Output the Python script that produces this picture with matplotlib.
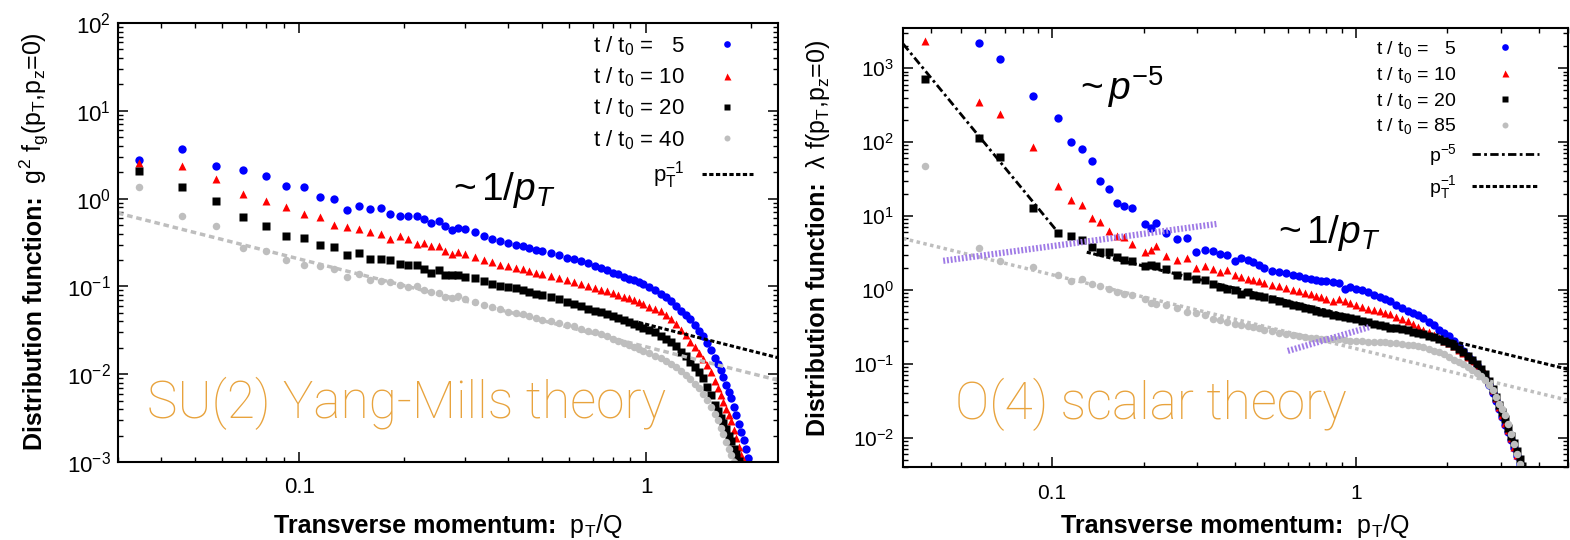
import numpy as np
import matplotlib.pyplot as plt
from matplotlib.ticker import LogLocator, NullFormatter, LogFormatterSciNotation

plt.rcParams['font.family'] = ['Liberation Sans', 'DejaVu Sans']
plt.rcParams['mathtext.fontset'] = 'custom'
plt.rcParams['mathtext.rm'] = 'Liberation Sans'
plt.rcParams['mathtext.it'] = 'Liberation Sans:italic'
plt.rcParams['mathtext.bf'] = 'Liberation Sans:bold'

nan = np.nan

# ---------------- SU(2) Yang-Mills (left panel) ----------------
p_su2 = [0.0344, 0.0458, 0.0573, 0.0687, 0.0800, 0.0916, 0.103, 0.1145, 0.126, 0.137,
         0.149, 0.160, 0.172, 0.183, 0.195, 0.206, 0.218, 0.229, 0.240, 0.252, 0.263, 0.275, 0.287,
         0.30, 0.32, 0.34, 0.36, 0.38, 0.40, 0.42, 0.44, 0.46, 0.48, 0.50, 0.53, 0.56, 0.59,
         0.62, 0.65, 0.68, 0.71, 0.74, 0.77, 0.80, 0.83, 0.86, 0.89, 0.92, 0.95, 0.98, 1.02,
         1.06, 1.10, 1.14, 1.18, 1.22, 1.26, 1.30, 1.34, 1.38, 1.42, 1.46, 1.50, 1.54, 1.58,
         1.61, 1.64, 1.67, 1.70, 1.73, 1.76, 1.79, 1.82, 1.85, 1.88, 1.91, 1.94, 1.97, 2.00]

f_su2_5 = [2.73, 3.68, 2.38, 2.14, 1.80, 1.40, 1.37, 1.04, 0.98, 0.75, 0.83, 0.76, 0.78, 0.67,
           0.63, 0.63, 0.64, 0.58, 0.53, 0.55, 0.49, 0.435, 0.46,
           0.45, 0.415, 0.38, 0.35, 0.333, 0.316, 0.30, 0.288, 0.275, 0.262, 0.250, 0.240, 0.226,
           0.212, 0.204, 0.195, 0.183, 0.172, 0.161, 0.152, 0.143, 0.137, 0.129, 0.123, 0.117,
           0.111, 0.106, 0.098, 0.090, 0.083, 0.076, 0.068, 0.060, 0.053, 0.047, 0.042, 0.036,
           0.031, 0.027, 0.0227, 0.019, 0.0155, 0.0132, 0.0113, 0.0092, 0.0076, 0.0063, 0.0053,
           0.0042, 0.0034, 0.0027, 0.0022, 0.0018, 0.0014, 0.0011, 0.0008]

f_su2_10 = [2.55, 2.33, 1.69, 1.14, 0.95, 0.80, 0.675, 0.61, 0.50, 0.47, 0.455, 0.42, 0.40,
            0.344, 0.38, 0.344, 0.307, 0.313, 0.286, 0.286, 0.251, 0.236, 0.245,
            0.235, 0.214, 0.20, 0.188, 0.177, 0.169, 0.163, 0.158, 0.150, 0.143, 0.137, 0.130,
            0.124, 0.119, 0.112, 0.106, 0.100, 0.095, 0.091, 0.088, 0.084, 0.080, 0.076, 0.073,
            0.0707, 0.067, 0.063, 0.059, 0.055, 0.052, 0.047, 0.042, 0.037, 0.032, 0.028, 0.0235,
            0.0203, 0.0175, 0.0150, 0.0128, 0.0106, 0.0083, 0.0070, 0.0058, 0.0048, 0.0040,
            0.0034, 0.0029, 0.0023, 0.0019, 0.0015, 0.0012, 0.00102, 0.0008, nan, nan]

f_su2_20 = [2.05, 1.35, 0.93, 0.61, 0.49, 0.376, 0.356, 0.299, 0.279, 0.226, 0.240, 0.206,
            0.206, 0.199, 0.182, 0.174, 0.177, 0.158, 0.142, 0.153, 0.134, 0.134, 0.135,
            0.128, 0.124, 0.116, 0.107, 0.100, 0.099, 0.095, 0.091, 0.087, 0.083, 0.080, 0.076,
            0.0715, 0.067, 0.063, 0.060, 0.056, 0.053, 0.0505, 0.048, 0.046, 0.044, 0.0415,
            0.039, 0.037, 0.0355, 0.034, 0.032, 0.030, 0.0275, 0.0255, 0.0235, 0.021, 0.0178,
            0.0160, 0.0138, 0.0120, 0.0105, 0.0090, 0.0072, 0.0058, 0.0045, 0.0038, 0.0032,
            0.0028, 0.0024, 0.0020, 0.00175, 0.0014, 0.00122, 0.00102, 0.0008, nan, nan, nan, nan]

f_su2_40 = [1.35, 0.64, 0.484, 0.275, 0.256, 0.202, 0.177, 0.169, 0.158, 0.127, 0.139, 0.119,
            0.114, 0.111, 0.105, 0.0986, 0.100, 0.092, 0.0865, 0.084, 0.0758, 0.0738, 0.077,
            0.071, 0.067, 0.062, 0.058, 0.055, 0.0515, 0.050, 0.048, 0.046, 0.0435, 0.0415,
            0.040, 0.038, 0.0365, 0.035, 0.033, 0.0313, 0.030, 0.0285, 0.0271, 0.0255, 0.0240,
            0.0227, 0.0215, 0.0205, 0.0195, 0.0185, 0.0175, 0.0163, 0.0152, 0.0142, 0.0131,
            0.0120, 0.0110, 0.0097, 0.0088, 0.0078, 0.0069, 0.0060, 0.0051, 0.0042, 0.0035,
            0.0030, 0.00244, 0.0021, 0.0017, 0.0014, 0.0012, 0.0010, 0.0008,
            nan, nan, nan, nan, nan, nan]

su2_fit_black = 0.037      # p_T^-1 amplitude (black dashed)
su2_fit_black_range = [0.95, 2.4]
su2_fit_grey = 0.0205      # p_T^-1 amplitude (grey dotted)
su2_xlim = [0.03, 2.4]
su2_ylim = [1e-3, 1e2]

# ---------------- O(4) scalar (right panel) ----------------
p_o4 = [0.0381, 0.0575, 0.0673, 0.0866, 0.1047, 0.115, 0.125, 0.135, 0.144, 0.154, 0.164,
        0.173, 0.183, 0.202, 0.212, 0.219, 0.238, 0.258, 0.278, 0.298, 0.318, 0.339, 0.358,
        0.377, 0.399, 0.420,
        0.44, 0.46, 0.48, 0.50, 0.53, 0.56, 0.59, 0.62, 0.65, 0.68, 0.71, 0.74, 0.77, 0.80,
        0.84, 0.88, 0.92, 0.96, 1.00, 1.05, 1.10, 1.15, 1.20, 1.25, 1.30, 1.36, 1.42, 1.48,
        1.54, 1.60, 1.67, 1.74, 1.81, 1.88, 1.95, 2.02, 2.10, 2.18, 2.26, 2.34, 2.42, 2.50,
        2.58, 2.66, 2.74, 2.82, 2.90, 2.97, 3.04, 3.11, 3.18, 3.25, 3.32, 3.39, 3.46, 3.53, 3.60]

f_o4_5 = [nan, 2225, 1324, 423, 209, 99, 80, 56, 30, 23.2, 14.8, 13.8, 12.8, 7.8, 6.9, 8.0,
          5.8, 4.9, 5.0, 3.23, 3.47, 3.4, 3.06, 2.97, 2.49, 2.68,
          2.55, 2.35, 2.15, 1.98, 1.80, 1.75, 1.68, 1.60, 1.52, 1.45, 1.39, 1.36, 1.33, 1.30,
          1.27, 1.22, 1.03, 1.08, 1.04, 0.98, 0.92, 0.85, 0.80, 0.75, 0.70, 0.62, 0.56, 0.52,
          0.49, 0.46, 0.41, 0.365, 0.33, 0.29, 0.262, 0.235, 0.20, 0.175, 0.148, 0.128, 0.112,
          0.097, 0.080, 0.064, 0.051, 0.040, 0.031, 0.024, 0.019, 0.015, 0.0118, 0.0092,
          0.0072, 0.0056, 0.0044, 0.0035, nan]

f_o4_10 = [2339, 351, 239, 87, 25.7, 16.6, 14.2, 9.4, 8.2, 6.3, 5.3, 5.15, 4.19, 3.23, 3.5,
           3.9, 2.91, 2.57, 2.68, 1.98, 2.13, 1.92, 1.77, 1.83, 1.6, 1.48,
           1.42, 1.36, 1.30, 1.25, 1.17, 1.11, 1.06, 1.00, 0.95, 0.91, 0.87, 0.83, 0.80, 0.75,
           0.70, 0.745, 0.71, 0.67, 0.63, 0.58, 0.555, 0.53, 0.51, 0.485, 0.465, 0.435, 0.405,
           0.375, 0.345, 0.318, 0.29, 0.268, 0.245, 0.222, 0.204, 0.19, 0.172, 0.155, 0.138,
           0.125, 0.11, 0.096, 0.085, 0.074, 0.058, 0.044, 0.034, 0.026, 0.020, 0.016, 0.0125,
           0.0098, 0.0075, 0.0058, 0.0045, nan, nan]

f_o4_20 = [710, 112, 63.4, 12.8, 5.9, 5.4, 4.74, 3.77, 3.23, 3.23, 2.82, 2.57, 2.49, 2.09,
           2.18, 2.13, 1.92, 1.6, 1.53, 1.38, 1.34, 1.21, 1.09, 1.03, 0.98, 0.88,
           0.92, 0.86, 0.82, 0.79, 0.74, 0.70, 0.66, 0.625, 0.598, 0.572, 0.545, 0.52, 0.50,
           0.483, 0.458, 0.44, 0.43, 0.42, 0.40, 0.383, 0.365, 0.35, 0.335, 0.32, 0.309, 0.302,
           0.295, 0.284, 0.272, 0.262, 0.252, 0.24, 0.228, 0.215, 0.204, 0.19, 0.173, 0.158,
           0.142, 0.127, 0.114, 0.100, 0.086, 0.073, 0.059, 0.046, 0.035, 0.028, 0.022, 0.018,
           0.0135, 0.0105, 0.0085, 0.0066, 0.0052, 0.0041, nan]

f_o4_85 = [46.9, 3.7, 2.44, 2.03, 1.6, 1.30, 1.41, 1.21, 1.12, 1.03, 0.93, 0.88, 0.84, 0.755,
           0.667, 0.647, 0.614, 0.565, 0.499, 0.489, 0.45, 0.405, 0.385, 0.366, 0.347, 0.337,
           0.322, 0.315, 0.305, 0.29, 0.274, 0.26, 0.249, 0.242, 0.237, 0.232, 0.226, 0.221,
           0.217, 0.215, 0.215, 0.213, 0.209, 0.205, 0.203, 0.20, 0.198, 0.195, 0.194, 0.194,
           0.193, 0.189, 0.185, 0.181, 0.177, 0.173, 0.166, 0.159, 0.150, 0.142, 0.134, 0.124,
           0.114, 0.106, 0.098, 0.091, 0.083, 0.075, 0.068, 0.061, 0.052, 0.044, 0.035, 0.0285,
           0.024, 0.020, 0.0155, 0.0112, 0.0083, 0.006, 0.0044, nan, nan]

o4_fit_p5 = 7.5e-5         # p^-5 amplitude
o4_fit_p5_range = [0.0323, 0.105]
o4_fit_p1 = 0.42           # p_T^-1 amplitude (black dashed)
o4_fit_p1_range = [0.13, 5.0]
o4_fit_grey = 0.16         # p_T^-1 amplitude (grey dotted)
o4_guide1_x, o4_guide1_y = [0.0438, 0.349], [2.47, 7.8]
o4_guide2_x, o4_guide2_y = [0.597, 1.11], [0.149, 0.314]
o4_xlim = [0.0323, 5.0]
o4_ylim = [0.004, 3500]

BLUE, RED, BLACK, GREY = '#0000ff', '#ff0000', '#000000', '#bebebe'
ORANGE = '#e8a33d'
PURPLE = '#9f7ae6'
THEORY_FONT = ['Roboto', 'Lato', 'DejaVu Sans']

fig = plt.figure(figsize=(15.7, 5.4), dpi=100)


def style_axes(ax, fs, ypad, xpad):
    ax.set_xscale('log')
    ax.set_yscale('log')
    ax.set_xticks([0.1, 1], ['0.1', '1'])
    ax.xaxis.set_minor_locator(LogLocator(base=10, subs=np.arange(2, 10), numticks=20))
    ax.xaxis.set_minor_formatter(NullFormatter())
    ax.yaxis.set_major_locator(LogLocator(base=10, numticks=20))
    ax.yaxis.set_major_formatter(LogFormatterSciNotation())
    ax.yaxis.set_minor_locator(LogLocator(base=10, subs=np.arange(2, 10), numticks=20))
    ax.yaxis.set_minor_formatter(NullFormatter())
    ax.tick_params(which='both', direction='in', top=True, right=True)
    ax.tick_params(which='major', length=7, width=1.1, labelsize=fs)
    ax.tick_params(which='minor', length=3.5, width=1.0)
    ax.tick_params(axis='y', pad=ypad)
    ax.tick_params(axis='x', pad=xpad)
    for s in ax.spines.values():
        s.set_linewidth(1.5)


def two_part_label(ax, bold, regular, x, y, fs, vertical):
    # bold part followed by regular part, sharing one baseline, centred on (x, y)
    rot = 90 if vertical else 0
    kw = dict(transform=ax.transAxes, fontsize=fs, rotation=rot, rotation_mode='anchor',
              ha='left', va='baseline')
    t1 = ax.text(x, y, bold, fontweight='bold', **kw)
    t2 = ax.text(x, y, regular, **kw)
    r = fig.canvas.get_renderer()
    ab = ax.get_window_extent(r)
    b1, b2 = t1.get_window_extent(r), t2.get_window_extent(r)
    if vertical:
        l1, l2 = b1.height / ab.height, b2.height / ab.height
        t1.set_position((x, y - (l1 + l2) / 2))
        t2.set_position((x, y - (l1 + l2) / 2 + l1))
    else:
        l1, l2 = b1.width / ab.width, b2.width / ab.width
        t1.set_position((x - (l1 + l2) / 2, y))
        t2.set_position((x - (l1 + l2) / 2 + l1, y))


# ---- left ----
ax1 = fig.add_axes([0.0752, 0.1444, 0.4204, 0.813])
ax1.plot(p_su2, f_su2_5, 'o', color=BLUE, ms=6, mec='none', label='t / t$_0$ =   5')
ax1.plot(p_su2, f_su2_10, '^', color=RED, ms=6.3, mec='none', label='t / t$_0$ = 10')
ax1.plot(p_su2, f_su2_20, 's', color=BLACK, ms=5.6, mec='none', label='t / t$_0$ = 20')
ax1.plot(p_su2, f_su2_40, 'o', color=GREY, ms=5.4, mec='none', label='t / t$_0$ = 40')
xg = np.array(su2_xlim)
ax1.plot(xg, su2_fit_grey / xg, color=GREY, lw=2.5, ls=(0, (1.6, 1.1)), label='_nolegend_')
xb = np.array(su2_fit_black_range)
ax1.plot(xb, su2_fit_black / xb, color=BLACK, lw=2.2, ls=(0, (1.4, 0.8)),
         label=r'p$_\mathrm{T}^{-1}$')
ax1.set_xlim(su2_xlim)
ax1.set_ylim(su2_ylim)
style_axes(ax1, 16, 5, 11)
two_part_label(ax1, 'Distribution function:',
               r'  g$^2$ f$_\mathrm{g}$(p$_\mathrm{T}$,p$_\mathrm{z}$=0)',
               -0.115, 0.503, 18, True)
two_part_label(ax1, 'Transverse momentum:', r'  p$_\mathrm{T}$/Q', 0.5, -0.162, 18, False)
ax1.legend(loc='upper right', bbox_to_anchor=(0.962, 0.975), frameon=False, markerfirst=False,
           numpoints=1, handlelength=2.3, handletextpad=0.77, labelspacing=0.35, borderpad=0,
           borderaxespad=0, fontsize=16, markerscale=0.8)
ax1.text(0.508, 0.62, r'~$\,\mathit{1/p_T}$', transform=ax1.transAxes, fontsize=28,
         ha='left', va='center')
ax1.text(0.044, 0.134, 'SU(2) Yang-Mills theory', transform=ax1.transAxes, fontsize=37,
         color=ORANGE, family=THEORY_FONT, fontweight='light', ha='left', va='center')

# ---- right ----
ax2 = fig.add_axes([0.5752, 0.1352, 0.4236, 0.813])
ax2.plot(p_o4, f_o4_5, 'o', color=BLUE, ms=6, mec='none', label='t / t$_0$ =   5')
ax2.plot(p_o4, f_o4_10, '^', color=RED, ms=6.3, mec='none', label='t / t$_0$ = 10')
ax2.plot(p_o4, f_o4_20, 's', color=BLACK, ms=5.6, mec='none', label='t / t$_0$ = 20')
ax2.plot(p_o4, f_o4_85, 'o', color=GREY, ms=5.4, mec='none', label='t / t$_0$ = 85')
xg2 = np.array(o4_xlim)
ax2.plot(xg2, o4_fit_grey / xg2, color=GREY, lw=2.5, ls=(0, (1.0, 1.0)), label='_nolegend_')
x5 = np.geomspace(*o4_fit_p5_range, 20)
ax2.plot(x5, o4_fit_p5 * x5 ** -5, color=BLACK, lw=2.0, ls=(0, (3, 1.2, 1, 1.2)),
         label='p$^{-5}$')
x1 = np.array(o4_fit_p1_range)
ax2.plot(x1, o4_fit_p1 / x1, color=BLACK, lw=2.2, ls=(0, (1.4, 0.8)),
         label=r'p$_\mathrm{T}^{-1}$')
ax2.plot(o4_guide1_x, o4_guide1_y, color=PURPLE, lw=4.5, ls=(0, (0.3, 0.3)),
         dash_capstyle='butt', label='_nolegend_')
ax2.plot(o4_guide2_x, o4_guide2_y, color=PURPLE, lw=4.5, ls=(0, (0.3, 0.3)),
         dash_capstyle='butt', label='_nolegend_')
ax2.set_xlim(o4_xlim)
ax2.set_ylim(o4_ylim)
style_axes(ax2, 15, 6.5, 12)
two_part_label(ax2, 'Distribution function:',
               r'  λ f(p$_\mathrm{T}$,p$_\mathrm{z}$=0)', -0.117, 0.522, 18, True)
two_part_label(ax2, 'Transverse momentum:', r'  p$_\mathrm{T}$/Q', 0.5, -0.150, 18, False)
ax2.legend(loc='upper right', bbox_to_anchor=(0.956, 0.975), frameon=False, markerfirst=False,
           numpoints=1, handlelength=3.45, handletextpad=0.77, labelspacing=0.3, borderpad=0,
           borderaxespad=0, fontsize=14, markerscale=0.8)
ax2.text(0.266, 0.866, r'~$\,\mathit{p^{-5}}$', transform=ax2.transAxes, fontsize=28,
         ha='left', va='center')
ax2.text(0.564, 0.533, r'~$\,\mathit{1/p_T}$', transform=ax2.transAxes, fontsize=28,
         ha='left', va='center')
ax2.text(0.078, 0.143, 'O(4) scalar theory', transform=ax2.transAxes, fontsize=37,
         color=ORANGE, family=THEORY_FONT, fontweight='light', ha='left', va='center')

fig.savefig('out.png', dpi=100, facecolor='white')
